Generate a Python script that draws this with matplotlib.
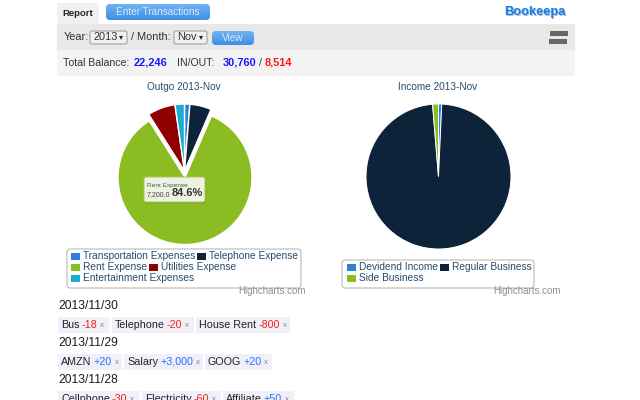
import matplotlib
matplotlib.use("Agg")
import matplotlib.pyplot as plt
from matplotlib.patches import FancyBboxPatch, Rectangle
import numpy as np

# data
outgo_names = ["Transportation Expenses", "Telephone Expense", "Rent Expense",
               "Utilities Expense", "Entertainment Expenses"]
outgo_values = [110, 440, 7200, 570, 194]
income_names = ["Devidend Income", "Regular Business", "Side Business"]
income_values = [220, 30140, 400]
outgo_colors = ["#2f7ed8", "#0d233a", "#8bbc21", "#910000", "#1aadce"]
income_colors = ["#2f7ed8", "#0d233a", "#8bbc21"]

days = ["2013/11/30", "2013/11/29", "2013/11/28"]
day_items = [
    [("Bus", "-18"), ("Telephone", "-20"), ("House Rent", "-800")],
    [("AMZN", "+20"), ("Salary", "+3,000"), ("GOOG", "+20")],
    [("Cellphone", "-30"), ("Electricity", "-60"), ("Affiliate", "+50")],
]

plt.rcParams['font.family'] = ['Liberation Sans', 'DejaVu Sans']
fig = plt.figure(figsize=(6.4, 4), dpi=100)
ax = fig.add_axes([0, 0, 1, 1])
BLUE = "#1a1aff"
RED = "#ff1a1a"
TITLE = "#274b6d"


def Y(y):
    return 400 - y


def label(x, y, s, px=11, color="#222222", ha="left", weight="normal", z=10):
    # size in pixels, y from the top of the picture
    return ax.text(x, Y(y), s, fontsize=px * 0.72, color=color, ha=ha, va="center",
                   fontweight=weight, zorder=z)


def box(x0, y0, x1, y1, fc, ec="none", lw=0.0, r=0.0, z=2):
    if r > 0:
        p = FancyBboxPatch((x0 + r, Y(y1) + r), x1 - x0 - 2 * r, y1 - y0 - 2 * r,
                           boxstyle="round,pad=%f,rounding_size=%f" % (r, r),
                           fc=fc, ec=ec, lw=lw, zorder=z)
    else:
        p = Rectangle((x0, Y(y1)), x1 - x0, y1 - y0, fc=fc, ec=ec, lw=lw, zorder=z)
    ax.add_patch(p)
    return p


def button(x0, y0, x1, y1, s, px=10):
    p = box(x0, y0, x1, y1, "none", r=4, z=3)
    grad = np.linspace(0, 1, 32).reshape(-1, 1)
    im = ax.imshow(grad, extent=(x0, x1, Y(y1), Y(y0)), aspect="auto", zorder=3,
                   cmap=matplotlib.colors.LinearSegmentedColormap.from_list("b", ["#6fb3f2", "#3f8fe6"]))
    im.set_clip_path(p)
    label((x0 + x1) / 2, (y0 + y1) / 2, s, px=px, color="#d8eafc", ha="center")


def select(x0, y0, x1, y1, s):
    box(x0, y0, x1, y1, "#f0f0f0", ec="#8a8a8a", lw=0.6, r=2, z=3)
    label(x0 + 3, (y0 + y1) / 2, s, px=11, color="#333333")
    label(x1 - 6, (y0 + y1) / 2, "▾", px=8, color="#222222", ha="center")


# header
box(57, 24, 575, 50, "#e8e8e8")
box(57, 50, 575, 76, "#f3f3f3")
box(57, 3, 99, 24, "#f0f0f0", r=2)
label(62, 13, "Report", px=9.5, weight="bold", color="#222222")
button(106, 4, 210, 20, "Enter Transactions")
label(504.7, 12.9, "Bookeepa", px=12.7, weight="bold", color="#b5b5b5", z=9)
label(504, 12, "Bookeepa", px=12.7, weight="bold", color="#0a7ff5")
box(550, 31, 568, 36, "#666666")
box(549, 39, 567, 44, "#666666")

label(64, 37, "Year:", px=11, color="#333333")
select(90, 31, 127, 44, "2013")
label(131, 37, "/ Month:", px=11, color="#333333")
select(174, 31, 207, 44, "Nov")
button(212, 31, 254, 45, "View")

# balance line, totals come from the two pies
total_in = sum(income_values)
total_out = sum(outgo_values)
label(63, 62.5, "Total Balance:", px=10.5, color="#333333")
label(134, 62.5, f"{total_in - total_out:,}", px=11, color=BLUE, weight="bold")
label(177, 62.5, "IN/OUT:", px=10.5, color="#333333")
label(223, 62.5, f"{total_in:,}", px=11, color=BLUE, weight="bold")
label(259, 62.5, "/", px=10.5, color="#333333")
label(265, 62.5, f"{total_out:,}", px=11, color=RED, weight="bold")

# pies
label(184, 87, "Outgo 2013-Nov", px=10, color=TITLE, ha="center")
label(438, 87, "Income 2013-Nov", px=10, color=TITLE, ha="center")

# explode is in data units here, the axes run in pixels
explode = [0, 0, 6.5, 0, 0]
ax.pie(outgo_values, colors=outgo_colors, explode=explode, center=(184.5, Y(171)), radius=67,
       startangle=90, counterclock=False, frame=True,
       wedgeprops=dict(edgecolor="white", linewidth=1.0, zorder=4))
ax.pie(income_values, colors=income_colors, center=(438.5, Y(176.5)), radius=72.5,
       startangle=90, counterclock=False, frame=True,
       wedgeprops=dict(edgecolor="white", linewidth=0.7, zorder=4))

# tooltip on the rent slice
box(145, 178.5, 206, 203.5, "#7da81c", r=2, z=5)
box(144, 177, 205, 202, "#eef2e2", ec="#a5c95a", lw=0.7, r=2, z=6)
label(147, 186, outgo_names[2], px=6.5, color="#555555")
label(147, 194.5, f"{outgo_values[2]:,}.0", px=7, color="#444444")
label(172, 193.5, f"{outgo_values[2] / total_out * 100:.1f}%", px=11, color="#333333", weight="bold")


def legend(x0, y0, x1, y1, rows):
    box(x0, y0, x1, y1, "white", ec="#b0b0b0", lw=0.7, r=3, z=3)
    for y, items in rows:
        for xs, name, color in items:
            box(xs, y - 3.5, xs + 9, y + 3.5, color, z=5)
            label(xs + 12, y, name, px=10.1, color=TITLE)


legend(67, 249, 301, 288, [
    (256, [(71, outgo_names[0], outgo_colors[0]), (197, outgo_names[1], outgo_colors[1])]),
    (267, [(71, outgo_names[2], outgo_colors[2]), (149, outgo_names[3], outgo_colors[3])]),
    (278, [(71, outgo_names[4], outgo_colors[4])]),
])
legend(342, 260, 534, 288, [
    (267, [(347, income_names[0], income_colors[0]), (440, income_names[1], income_colors[1])]),
    (278, [(347, income_names[2], income_colors[2])]),
])
label(305.5, 291, "Highcharts.com", px=9.8, color="#909090", ha="right", z=11)
label(560.5, 291, "Highcharts.com", px=9.8, color="#909090", ha="right", z=11)

# transaction list
ax.set_xlim(0, 640)
ax.set_ylim(0, 400)
renderer = fig.canvas.get_renderer()


def text_end(t):
    # right edge of a text in pixel coordinates
    return t.get_window_extent(renderer).x1


day_y = [306, 343, 380]
chip_y = [(317, 333), (354, 370), (391, 407)]
chip_x = [[(58, 109), (112, 194), (196, 290)],
          [(58, 122), (124, 203), (205, 272)],
          [(58, 139), (142, 221), (223, 294)]]

for d, dy, cy, items, xs in zip(days, day_y, chip_y, day_items, chip_x):
    label(58, dy, d, px=12, color="#1a1a1a")
    for (name, val), (x0, x1) in zip(items, xs):
        box(x0, cy[0], x1, cy[1], "#f0f0fa", z=2)
        ym = (cy[0] + cy[1]) / 2
        t = label(x0 + 3, ym, name, px=10.8, color="#222222")
        vc = RED if val.startswith("-") else "#2b6fff"
        t2 = label(text_end(t) + 2, ym, val, px=10.8, color=vc)
        label(text_end(t2) + 3, ym + 0.5, "x", px=8, color="#888888")

ax.set_xlim(0, 640)
ax.set_ylim(0, 400)
ax.set_aspect("auto")
ax.axis("off")
fig.savefig("out.png", dpi=100)
